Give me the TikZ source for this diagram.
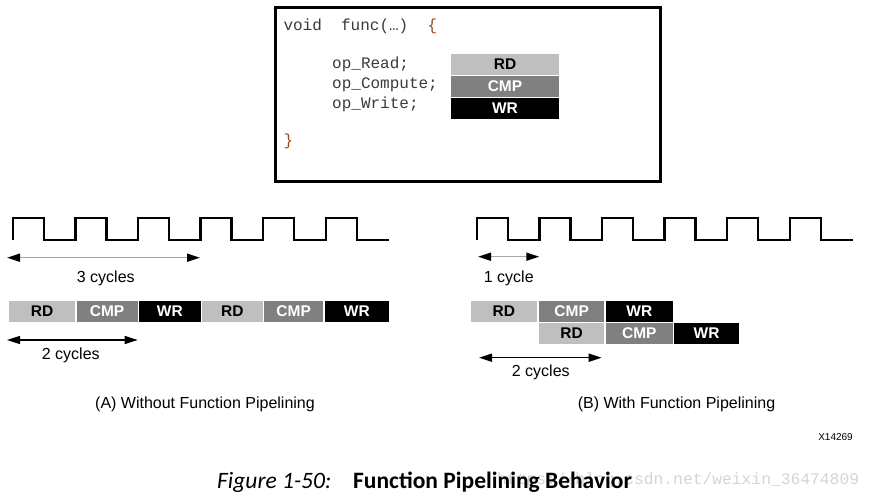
\documentclass[tikz,border=0pt]{standalone}
\usepackage{fontspec}
\setmainfont{Liberation Sans}
\newfontfamily\codefont{Liberation Mono}
\newfontfamily\capfont{Carlito}
\usetikzlibrary{arrows.meta}
\definecolor{rdgray}{HTML}{BFBFBF}
\definecolor{cmpgray}{HTML}{808080}
\definecolor{codegray}{HTML}{3A3A3A}
\definecolor{codebrown}{HTML}{9A4A1A}
\definecolor{linegray}{HTML}{A6A6A6}
\definecolor{markgray}{HTML}{D4D4D4}
\begin{document}
\begin{tikzpicture}[x=1pt,y=-1pt,
  opbox/.style={inner sep=0pt, outer sep=0pt, minimum height=20.7pt,
    font=\fontsize{15.5}{16}\selectfont\bfseries},
  rdbox/.style={opbox, fill=rdgray, text=black},
  cmpbox/.style={opbox, fill=cmpgray, text=white},
  wrbox/.style={opbox, fill=black, text=white},
  codeframe/.style={draw=black, line width=3pt, inner sep=0pt},
  code/.style={inner sep=0pt, anchor=base west, text=codegray,
    font=\codefont\fontsize{16}{18}\selectfont},
  clock/.style={line width=2.4pt, line join=miter},
  dimline/.style={line width=1.6pt, {Triangle[length=13pt,width=8pt,color=black]}-{Triangle[length=13pt,width=8pt,color=black]}},
  dimgray/.style={dimline, draw=linegray},
  dimblack/.style={dimline, draw=black},
  lbl/.style={inner sep=0pt, font=\fontsize{16}{18}\selectfont}
]
\useasboundingbox (0,0) rectangle (871,497);

% watermark
\node[inner sep=0pt, anchor=base west, text=markgray,
  font=\codefont\fontsize{16.3}{18}\selectfont] (wm) at (497,484) {https://blog.csdn.net/weixin\_36474809};

% code box
\node[codeframe, minimum width=385.2pt, minimum height=174pt] (codebox) at (467.6,94.5) {};
\node[code] (c1) at (283.3,30.5) {void~~func(…)~~{\color{codebrown}\{}};
\node[code] (c2) at (332,69) {op\_Read;};
\node[code] (c3) at (332,89) {op\_Compute;};
\node[code] (c4) at (332,108.5) {op\_Write;};
\node[code, text=codebrown] (c5) at (283.3,145.5) {\}};
\node[rdbox, minimum width=108pt, minimum height=21pt] (krd) at (505,64.5) {RD};
\node[cmpbox, minimum width=108pt] (kcmp) at (505,86.35) {CMP};
\node[wrbox, minimum width=108pt, minimum height=21pt] (kwr) at (505,108.2) {WR};

% clocks
\draw[clock] (12.7,240.3) \foreach \k in {0,...,5} { -- ++(0,-22.3) -- ++(31,0) -- ++(0,22.3) -- ++(31.6,0) } -- ++(0.7,0);
\draw[clock] (476.7,240.3) \foreach \k in {0,...,5} { -- ++(0,-22.3) -- ++(31,0) -- ++(0,22.3) -- ++(31.6,0) } -- ++(0.7,0);

% left side
\coordinate (a3l) at (7,257.7);
\coordinate (a3r) at (200,257.7);
\draw[dimgray] (a3l) -- (a3r);
\node[lbl] (t3) at (105.8,278) {3 cycles};

\node[rdbox, minimum width=66.3pt] (la1) at (42.15,311.3) {RD};
\node[cmpbox, minimum width=61.2pt] (la2) at (107.1,311.3) {CMP};
\node[wrbox, minimum width=61.8pt] (la3) at (169.9,311.3) {WR};
\node[rdbox, minimum width=60.7pt] (la4) at (232.35,311.3) {RD};
\node[cmpbox, minimum width=59.3pt] (la5) at (293.65,311.3) {CMP};
\node[wrbox, minimum width=64.8pt] (la6) at (356.9,311.3) {WR};

\coordinate (a2l) at (7,340);
\coordinate (a2r) at (137.7,340);
\draw[dimblack] (a2l) -- (a2r);
\node[lbl] (t2) at (70.8,355) {2 cycles};

\node[lbl] (capA) at (205,404) {(A) Without Function Pipelining};

% right side
\coordinate (b1l) at (478,256.7);
\coordinate (b1r) at (539.3,256.7);
\draw[dimgray] (b1l) -- (b1r);
\node[lbl] (t1) at (508.8,278) {1 cycle};

\node[rdbox, minimum width=65.7pt] (rb1) at (503.85,311.3) {RD};
\node[cmpbox, minimum width=65.3pt] (rb2) at (571.65,311.3) {CMP};
\node[wrbox, minimum width=66.7pt] (rb3) at (639.35,311.3) {WR};
\node[rdbox, minimum width=65.3pt] (rc1) at (571.65,333.5) {RD};
\node[cmpbox, minimum width=66.7pt] (rc2) at (639.35,333.5) {CMP};
\node[wrbox, minimum width=65.3pt] (rc3) at (706.65,333.5) {WR};

\coordinate (b2l) at (479,357.7);
\coordinate (b2r) at (601.7,357.7);
\draw[dimblack] (b2l) -- (b2r);
\node[lbl] (t2b) at (540.8,372) {2 cycles};

\node[lbl] (capB) at (676.5,404) {(B) With Function Pipelining};

\node[inner sep=0pt, anchor=east, font=\fontsize{10}{12}\selectfont] (xid) at (853,437) {X14269};

% figure caption
\node[inner sep=0pt, anchor=base west, font=\capfont\fontsize{23.5}{26}\selectfont\itshape] (fig) at (217,488) {Figure 1-50:};
\node[inner sep=0pt, anchor=base west, font=\capfont\fontsize{23.5}{26}\selectfont\bfseries] (figt) at (353,488) {Function Pipelining Behavior};
\end{tikzpicture}
\end{document}
